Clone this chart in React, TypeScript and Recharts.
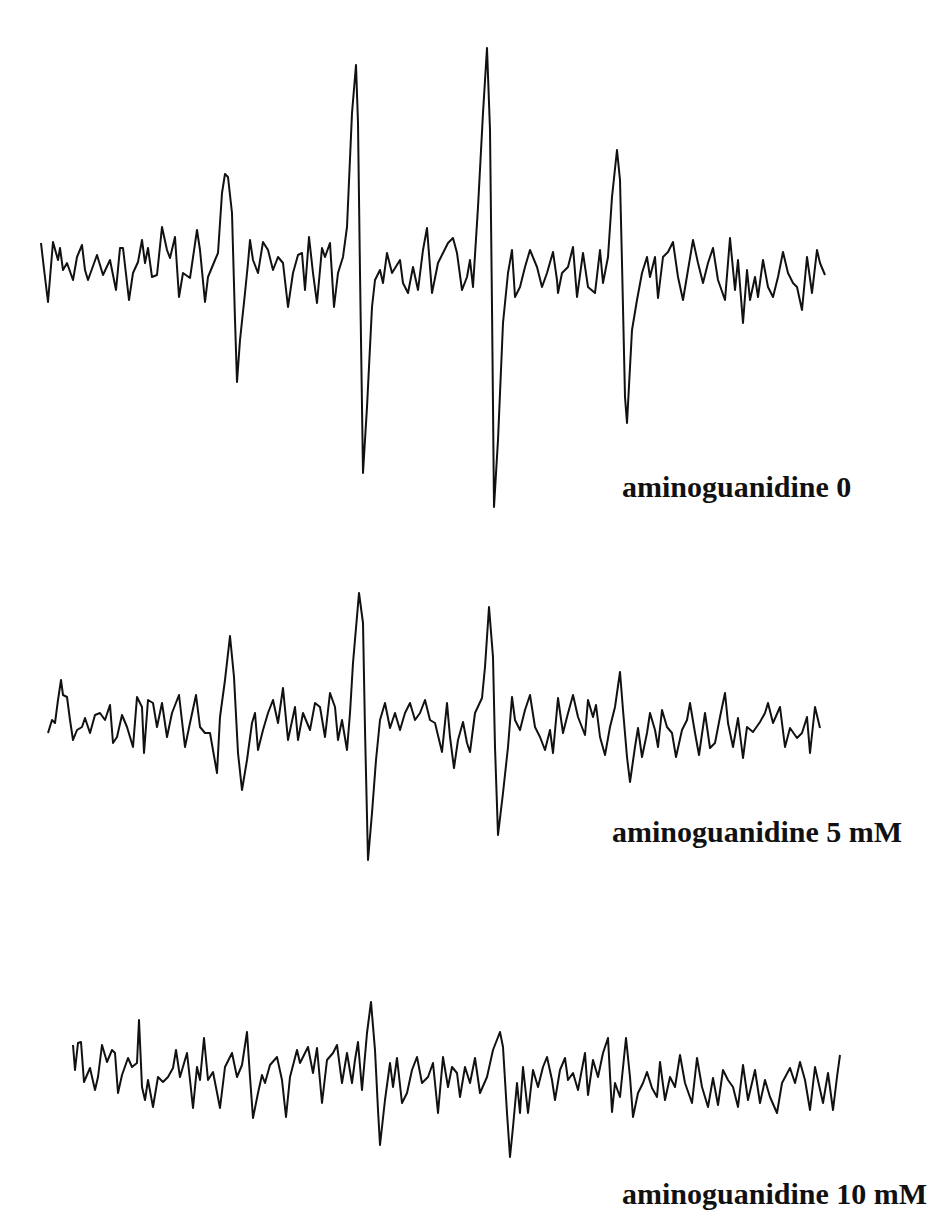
import React from "react";
import { LineChart, Line, XAxis, YAxis } from "recharts";

// EPR spectra: [field (a.u.), signal (a.u.)]
const trace0: [number, number][] = [
  [41, 22], [44, -4], [48, -37], [53, 23], [58, 5], [60, 17], [63, -5], [67, 2], [73, -15], [77, 8],
  [82, 20], [85, -5], [88, -15], [97, 10], [103, -10], [110, 5], [116, -25], [120, 17], [123, 17], [129, -35],
  [133, -8], [138, 3], [142, 25], [145, 2], [148, 17], [152, -12], [157, -10], [162, 38], [167, 15], [170, 7],
  [175, 28], [179, -32], [183, -8], [190, -13], [197, 35], [200, 15], [205, -37], [208, -12], [215, 5], [218, 12],
  [222, 72], [225, 91], [228, 88], [232, 52], [235, -55], [237, -117], [240, -75], [245, -28], [248, 2], [250, 25],
  [253, 5], [258, -8], [263, 23], [268, 15], [273, -5], [278, 8], [283, 2], [288, -42], [293, -8], [298, 10],
  [302, 12], [305, -25], [309, 28], [313, -8], [317, -38], [322, 17], [325, 8], [330, 22], [334, -42], [338, -8],
  [343, 8], [347, 38], [352, 152], [356, 200], [358, 142], [360, -8], [363, -208], [367, -142], [372, -42], [375, -15],
  [380, -5], [383, -18], [387, 12], [392, -8], [400, 5], [403, -18], [408, -28], [413, -2], [418, -25], [423, 15],
  [427, 37], [432, -28], [438, 2], [443, 12], [448, 22], [453, 27], [457, 12], [462, -25], [467, -12], [470, 5],
  [473, -22], [478, 58], [483, 152], [487, 217], [490, 135], [492, -42], [494, -242], [498, -175], [503, -58], [508, -8],
  [512, 15], [515, -32], [520, -22], [525, -2], [530, 15], [537, -2], [542, -22], [547, -8], [553, 13], [557, -15],
  [558, -28], [562, -8], [568, -2], [573, 18], [577, -32], [583, 12], [588, -22], [595, -28], [600, 15], [603, -18],
  [608, 8], [612, 68], [617, 115], [620, 85], [622, 2], [625, -132], [627, -158], [632, -65], [637, -35], [642, -8],
  [647, 8], [650, -12], [655, 8], [658, -33], [663, 8], [668, 13], [673, 23], [678, -12], [683, -35], [688, -5],
  [693, 25], [698, 2], [703, -18], [708, 2], [713, 17], [718, -15], [725, -35], [730, 27], [735, -25], [738, 5],
  [743, -58], [747, -5], [750, -35], [755, -12], [758, -32], [763, 5], [768, -22], [773, -32], [778, -12], [783, 13],
  [788, -8], [793, -18], [797, -22], [802, -45], [807, 8], [812, -28], [817, 15], [820, 2], [825, -10],
];

const trace5: [number, number][] = [
  [48, -13], [52, 0], [55, -3], [58, 20], [61, 40], [63, 25], [67, 23], [70, 0], [73, -20], [77, -10],
  [82, -7], [85, 2], [90, -13], [95, 5], [100, 7], [105, 0], [110, 15], [113, -23], [117, -17], [122, 5],
  [127, -7], [133, -27], [137, 23], [142, 13], [144, -33], [148, 20], [153, 17], [157, -7], [162, 17], [167, -17],
  [172, 7], [179, 25], [185, -27], [190, -3], [196, 25], [200, -7], [205, -13], [210, -13], [217, -53], [220, 3],
  [225, 40], [230, 84], [234, 43], [238, -33], [242, -70], [247, -40], [252, -3], [255, 7], [258, -30], [263, -10],
  [268, 7], [273, 20], [278, -3], [283, 32], [288, -20], [295, 13], [298, -20], [303, 7], [310, -10], [315, 17],
  [320, 13], [325, -17], [330, 27], [335, 13], [338, -20], [342, 0], [347, -30], [350, 7], [353, 57], [359, 127],
  [363, 97], [365, -10], [368, -140], [372, -93], [376, -40], [380, 0], [385, 17], [390, -8], [395, 7], [400, -10],
  [405, 7], [410, 17], [415, 0], [420, 7], [425, 20], [430, 0], [435, -3], [442, -32], [447, 17], [450, -17],
  [454, -48], [458, -20], [463, -2], [467, -23], [470, -32], [475, 7], [482, 22], [485, 53], [489, 113], [493, 63],
  [495, -27], [498, -115], [503, -73], [508, -27], [512, 23], [515, 0], [520, -10], [525, 10], [530, 25], [535, -7],
  [540, -17], [545, -30], [550, -10], [553, -33], [558, 22], [563, -13], [567, 3], [573, 25], [578, 3], [585, -15],
  [588, 20], [593, 3], [596, 15], [600, -17], [605, -35], [610, -7], [615, 13], [620, 48], [623, 10], [627, -37],
  [630, -62], [635, -27], [638, -8], [642, -37], [647, -13], [650, 7], [655, -10], [658, -27], [662, 10], [667, -7],
  [672, -13], [676, -37], [682, -10], [687, 0], [690, 17], [695, -13], [699, -35], [705, 7], [710, -28], [715, -23],
  [720, 3], [725, 27], [728, -3], [733, -27], [738, 2], [743, -38], [747, -7], [753, -12], [760, -2], [765, 7],
  [768, 17], [773, -3], [780, 13], [785, -27], [790, -8], [797, -18], [802, -13], [807, 3], [810, -33], [815, 13],
  [820, -8],
];

const trace10: [number, number][] = [
  [73, 25], [75, 0], [78, 27], [81, 28], [84, -12], [90, 2], [95, -20], [98, -7], [102, 25], [107, 8],
  [112, 20], [115, 17], [118, -23], [122, -5], [128, 12], [132, 3], [137, 7], [139, 50], [142, -17], [145, -30],
  [148, -10], [153, -37], [158, -7], [163, -12], [168, -7], [173, 2], [176, 20], [180, -7], [187, 17], [190, -10],
  [193, -38], [197, 3], [200, -10], [204, 32], [208, -10], [213, -2], [220, -38], [225, 3], [232, 17], [237, -7],
  [242, 5], [247, 38], [250, -7], [253, -48], [258, -23], [262, -5], [265, -13], [270, 5], [277, 13], [282, -10],
  [286, -47], [290, -7], [297, 20], [300, 7], [308, 23], [313, -3], [317, 22], [322, -33], [327, 10], [333, 17],
  [337, 25], [342, -13], [347, 17], [352, -13], [355, 10], [358, 28], [362, -20], [367, 37], [371, 68], [375, 20],
  [378, -40], [380, -75], [385, -30], [390, 7], [393, -17], [397, 12], [402, -33], [407, -23], [412, 0], [417, 13],
  [422, -13], [428, -7], [433, 7], [438, -43], [443, 13], [448, -17], [452, 3], [457, -3], [460, -27], [465, 3],
  [470, -13], [475, 12], [480, -23], [487, -7], [493, 20], [500, 38], [503, 23], [507, -43], [510, -87], [513, -57],
  [517, -13], [520, -43], [523, 3], [528, -43], [533, 0], [538, -17], [543, 3], [547, 13], [552, -10], [555, -30],
  [560, 0], [565, 12], [568, -10], [573, -3], [578, -20], [585, 17], [588, -25], [593, 10], [598, -7], [603, 17],
  [608, 32], [612, -42], [615, -13], [620, -27], [626, 32], [630, -7], [633, -47], [638, -23], [643, -13], [647, -2],
  [652, -18], [657, -27], [660, 8], [665, -30], [670, -7], [675, -17], [680, 15], [685, -13], [692, -33], [697, 12],
  [702, -17], [708, -37], [713, -8], [718, -35], [723, 0], [728, -10], [733, -17], [738, -37], [743, 5], [748, -30],
  [755, 0], [760, -33], [765, -10], [770, -27], [777, -43], [782, -13], [790, 2], [795, -13], [800, 8], [805, -10],
  [810, -40], [815, 3], [823, -33], [828, -3], [833, -40], [837, -7], [840, 15],
];

const labels = ["aminoguanidine 0", "aminoguanidine 5 mM", "aminoguanidine 10 mM"];

const WIDTH = 949;
const FIELD_DOMAIN: [number, number] = [0, 949];

const panels = [
  { trace: trace0, label: labels[0], top: 0, height: 530, labelLeft: 622, labelTop: 472 },
  { trace: trace5, label: labels[1], top: 560, height: 320, labelLeft: 612, labelTop: 817 },
  { trace: trace10, label: labels[2], top: 960, height: 220, labelLeft: 622, labelTop: 1179 },
];

function Spectrum({ trace, height }: { trace: [number, number][]; height: number }) {
  const data = trace.map(([field, signal]) => ({ field, signal }));
  const half = height / 2;
  return (
    <LineChart width={WIDTH} height={height} data={data} margin={{ top: 0, right: 0, bottom: 0, left: 0 }}>
      <XAxis type="number" dataKey="field" domain={FIELD_DOMAIN} hide />
      <YAxis type="number" domain={[-half, half]} hide />
      <Line
        type="linear"
        dataKey="signal"
        stroke="#111"
        strokeWidth={2}
        strokeLinejoin="round"
        dot={false}
        activeDot={false}
        isAnimationActive={false}
      />
    </LineChart>
  );
}

export default function App() {
  return (
    <div style={{ position: "relative", width: WIDTH, height: 1223, background: "#fff" }}>
      <style>{`body { margin: 0; }`}</style>
      {panels.map((p) => (
        <React.Fragment key={p.label}>
          <div style={{ position: "absolute", left: 0, top: p.top }}>
            <Spectrum trace={p.trace} height={p.height} />
          </div>
          <div
            style={{
              position: "absolute",
              left: p.labelLeft,
              top: p.labelTop,
              fontFamily: "'Liberation Serif', 'Times New Roman', serif",
              fontWeight: "bold",
              fontSize: 30,
              lineHeight: 1,
              whiteSpace: "nowrap",
              color: "#111",
            }}
          >
            {p.label}
          </div>
        </React.Fragment>
      ))}
    </div>
  );
}
